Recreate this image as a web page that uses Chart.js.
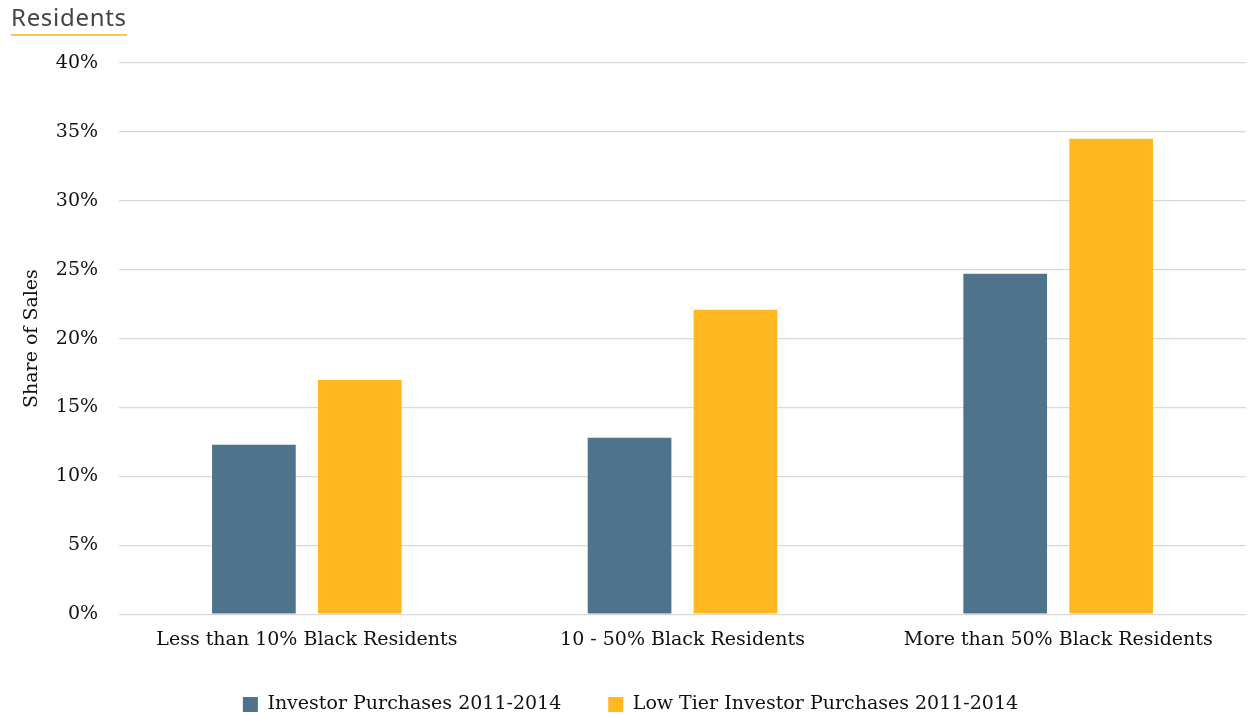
<!DOCTYPE html>
<html>
<head>
<meta charset="utf-8">
<script src="https://cdn.jsdelivr.net/npm/chart.js@4.4.1/dist/chart.umd.min.js"></script>
<style>
  body { margin: 0; background: #fff; }
  #wrap { position: relative; width: 1248px; height: 717px; }
  #heading {
    position: absolute; left: 11px; top: 2px;
    font-family: "Noto Sans", sans-serif; font-size: 24px; color: #444;
    padding-bottom: 2px; border-bottom: 2px solid #fbc550; line-height: 30px;
    letter-spacing: 0.7px;
  }
</style>
</head>
<body>
<div id="wrap">
  <canvas id="chartVendas" width="1248" height="717"></canvas>
  <div id="heading">Residents</div>
</div>
<script>
// Categorias e séries
const categorias = ['Less than 10% Black Residents', '10 - 50% Black Residents', 'More than 50% Black Residents'];
const investidores = [12.3, 12.8, 24.7];
const investidoresBaixo = [17.0, 22.1, 34.5];
const nomesSeries = ['Investor Purchases 2011-2014', 'Low Tier Investor Purchases 2011-2014'];
const coresSeries = ['#4e738a', '#ffb81f'];

const fonteSerif = '"DejaVu Serif", "Liberation Serif", serif';

// legenda mais baixa sem perder o espaçamento horizontal entre itens
const ajusteLegenda = {
  id: 'ajusteLegenda',
  beforeInit(chart) {
    const leg = chart.legend;
    const fitOriginal = leg.fit;
    const drawOriginal = leg._draw;
    leg.fit = function () {
      fitOriginal.call(this);
      this.height -= 16;
    };
    leg._draw = function () {
      this.top -= 9;
      drawOriginal.call(this);
      this.top += 9;
    };
  }
};

const ctxVendas = document.getElementById('chartVendas').getContext('2d');
const chartVendas = new Chart(ctxVendas, {
  type: 'bar',
  data: {
    labels: categorias,
    datasets: [{
      label: nomesSeries[0],
      data: investidores,
      backgroundColor: coresSeries[0],
      categoryPercentage: 0.564,
      barPercentage: 0.79
    }, {
      label: nomesSeries[1],
      data: investidoresBaixo,
      backgroundColor: coresSeries[1],
      categoryPercentage: 0.564,
      barPercentage: 0.79
    }]
  },
  options: {
    responsive: false,
    animation: false,
    layout: { padding: { top: 63, left: 15, right: 2, bottom: 0 } },
    scales: {
      x: {
        grid: { display: false },
        border: { display: false },
        ticks: { color: '#111', font: { family: fonteSerif, size: 19 }, padding: 6 }
      },
      y: {
        min: 0,
        max: 40,
        ticks: {
          stepSize: 5,
          padding: 21,
          color: '#111',
          font: { family: fonteSerif, size: 19 },
          callback: v => v + '%'
        },
        grid: { color: '#d9d9d9', lineWidth: 1.3, drawTicks: false },
        border: { display: false },
        title: {
          display: true,
          text: 'Share of Sales',
          color: '#111',
          font: { family: fonteSerif, size: 19 },
          padding: { top: 6, bottom: -9 }
        }
      }
    },
    plugins: {
      legend: {
        position: 'bottom',
        labels: {
          color: '#111',
          font: { family: fonteSerif, size: 19 },
          boxWidth: 15,
          boxHeight: 15,
          padding: 47
        }
      },
      tooltip: { enabled: false }
    }
  },
  plugins: [ajusteLegenda]
});
</script>
</body>
</html>
